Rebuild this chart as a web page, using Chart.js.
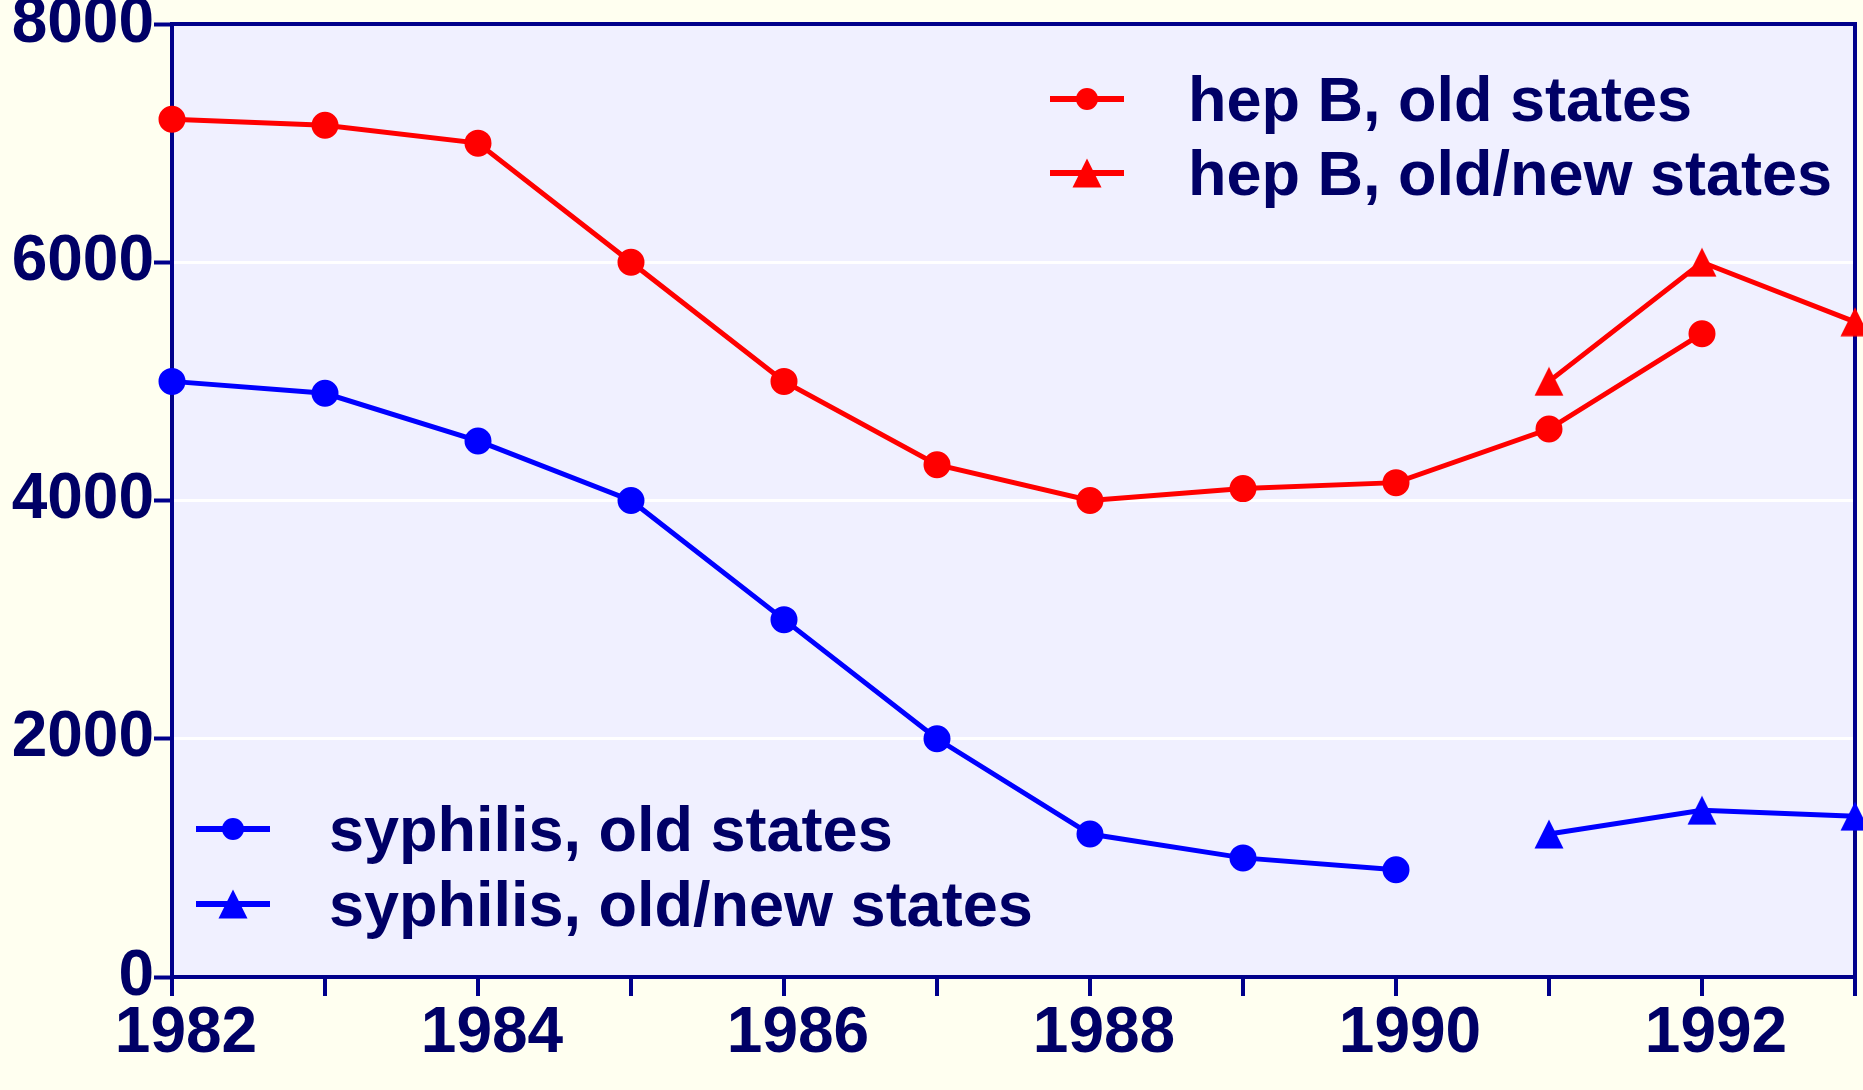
<!DOCTYPE html>
<html>
<head>
<meta charset="utf-8">
<script src="https://cdn.jsdelivr.net/npm/chart.js@4"></script>
<style>
  html, body { margin: 0; padding: 0; background: #FFFFF0; }
</style>
</head>
<body>
<canvas id="chart" width="1863" height="1090"></canvas>
<script>
// data
const years = ['1982', '1983', '1984', '1985', '1986', '1987', '1988', '1989', '1990', '1991', '1992', '1993'];
const hepOld = [7200, 7150, 7000, 6000, 5000, 4300, 4000, 4100, 4150, 4600, 5400, null];
const hepOldNew = [null, null, null, null, null, null, null, null, null, 5000, 6000, 5500];
const syphOld = [5000, 4900, 4500, 4000, 3000, 2000, 1200, 1000, 900, null, null, null];
const syphOldNew = [null, null, null, null, null, null, null, null, null, 1200, 1400, 1350];
const yTicks = [0, 2000, 4000, 6000, 8000];

const NAVY = '#00008B';
const TEXT = '#000066';
const FONT = "'Liberation Sans', Arial, sans-serif";

// the triangles in the original are a bit squatter than Chart.js' equilateral one
function triangleImage(color) {
  const c = document.createElement('canvas');
  c.width = 30;
  c.height = 30;
  const g = c.getContext('2d');
  g.fillStyle = color;
  g.beginPath();
  g.moveTo(15, 0.5);
  g.lineTo(29.5, 29.5);
  g.lineTo(0.5, 29.5);
  g.closePath();
  g.fill();
  return c;
}
const redTri = triangleImage('#FF0000');
const blueTri = triangleImage('#0000FF');

// plot background + frame
const framePlugin = {
  id: 'frame',
  beforeDraw(chart) {
    const { ctx, chartArea: a } = chart;
    ctx.save();
    ctx.fillStyle = '#F0F0FF';
    ctx.fillRect(a.left, a.top, a.right - a.left, a.bottom - a.top);
    ctx.restore();
  },
  beforeDatasetsDraw(chart) {
    const { ctx, chartArea: a } = chart;
    ctx.save();
    ctx.strokeStyle = NAVY;
    ctx.lineWidth = 4;
    ctx.beginPath();
    ctx.moveTo(a.left, a.top);
    ctx.lineTo(a.right, a.top);
    ctx.lineTo(a.right, a.bottom);
    ctx.stroke();
    ctx.restore();
  }
};

// two legend groups inside the plot
const legendPlugin = {
  id: 'cornerLegends',
  afterDatasetsDraw(chart, args, opts) {
    const ctx = chart.ctx;
    ctx.save();
    opts.items.forEach(item => {
      const ds = chart.data.datasets[item.dataset];
      ctx.strokeStyle = ds.borderColor;
      ctx.fillStyle = ds.borderColor;
      ctx.lineWidth = 6;
      ctx.beginPath();
      ctx.moveTo(item.x - 37, item.y);
      ctx.lineTo(item.x + 37, item.y);
      ctx.stroke();
      if (typeof ds.pointStyle === 'object') {
        const img = ds.pointStyle;
        ctx.drawImage(img, item.x - img.width / 2, item.y - img.height / 2);
      } else {
        ctx.beginPath();
        ctx.arc(item.x, item.y, 11, 0, Math.PI * 2);
        ctx.fill();
      }
      ctx.fillStyle = TEXT;
      ctx.font = 'bold 63px ' + FONT;
      ctx.textAlign = 'left';
      ctx.textBaseline = 'alphabetic';
      ctx.fillText(ds.label, item.tx, item.y + 22);
    });
    ctx.restore();
  }
};

new Chart(document.getElementById('chart').getContext('2d'), {
  type: 'line',
  data: {
    labels: years,
    datasets: [
      { label: 'hep B, old states', data: hepOld, borderColor: '#FF0000', backgroundColor: '#FF0000',
        borderWidth: 5, pointStyle: 'circle', pointRadius: 11, clip: false },
      { label: 'hep B, old/new states', data: hepOldNew, borderColor: '#FF0000', backgroundColor: '#FF0000',
        borderWidth: 5, pointStyle: redTri, pointRadius: 14, clip: false },
      { label: 'syphilis, old states', data: syphOld, borderColor: '#0000FF', backgroundColor: '#0000FF',
        borderWidth: 5, pointStyle: 'circle', pointRadius: 11, clip: false },
      { label: 'syphilis, old/new states', data: syphOldNew, borderColor: '#0000FF', backgroundColor: '#0000FF',
        borderWidth: 5, pointStyle: blueTri, pointRadius: 14, clip: false }
    ]
  },
  options: {
    responsive: false,
    animation: false,
    elements: {
      line: { tension: 0 },
      point: { borderWidth: 0 }
    },
    layout: { autoPadding: false, padding: { left: 0, top: 24, right: 8, bottom: 0 } },
    plugins: {
      legend: { display: false },
      tooltip: { enabled: false },
      cornerLegends: {
        items: [
          { dataset: 0, x: 1087, y: 99, tx: 1188 },
          { dataset: 1, x: 1087, y: 173, tx: 1188 },
          { dataset: 2, x: 233, y: 829, tx: 329 },
          { dataset: 3, x: 233, y: 904, tx: 329 }
        ]
      }
    },
    scales: {
      x: {
        type: 'category',
        offset: false,
        grid: { drawOnChartArea: false, drawTicks: true, tickLength: 19, tickColor: NAVY, lineWidth: 4 },
        border: { display: true, color: NAVY, width: 4 },
        ticks: {
          autoSkip: false,
          maxRotation: 0,
          padding: 0,
          labelOffset: 14,
          color: TEXT,
          font: { family: FONT, size: 64, weight: 'bold' },
          callback: function (v, i) { return i % 2 === 0 ? this.getLabelForValue(v) : ''; }
        },
        afterFit: s => { s.height = 113; s.paddingLeft = 0; s.paddingRight = 0; }
      },
      y: {
        min: 0,
        max: 8000,
        afterBuildTicks: s => { s.ticks = yTicks.map(v => ({ value: v })); },
        grid: { color: '#FFFFFF', lineWidth: 3, tickColor: NAVY, tickLength: 18, tickWidth: 4 },
        border: { display: true, color: NAVY, width: 4 },
        ticks: {
          padding: 0,
          color: TEXT,
          font: { family: FONT, size: 64, weight: 'bold' },
          callback: v => String(v)
        },
        afterFit: s => { s.width = 172; s.paddingTop = 0; s.paddingBottom = 0; }
      }
    }
  },
  plugins: [framePlugin, legendPlugin]
});
</script>
</body>
</html>
